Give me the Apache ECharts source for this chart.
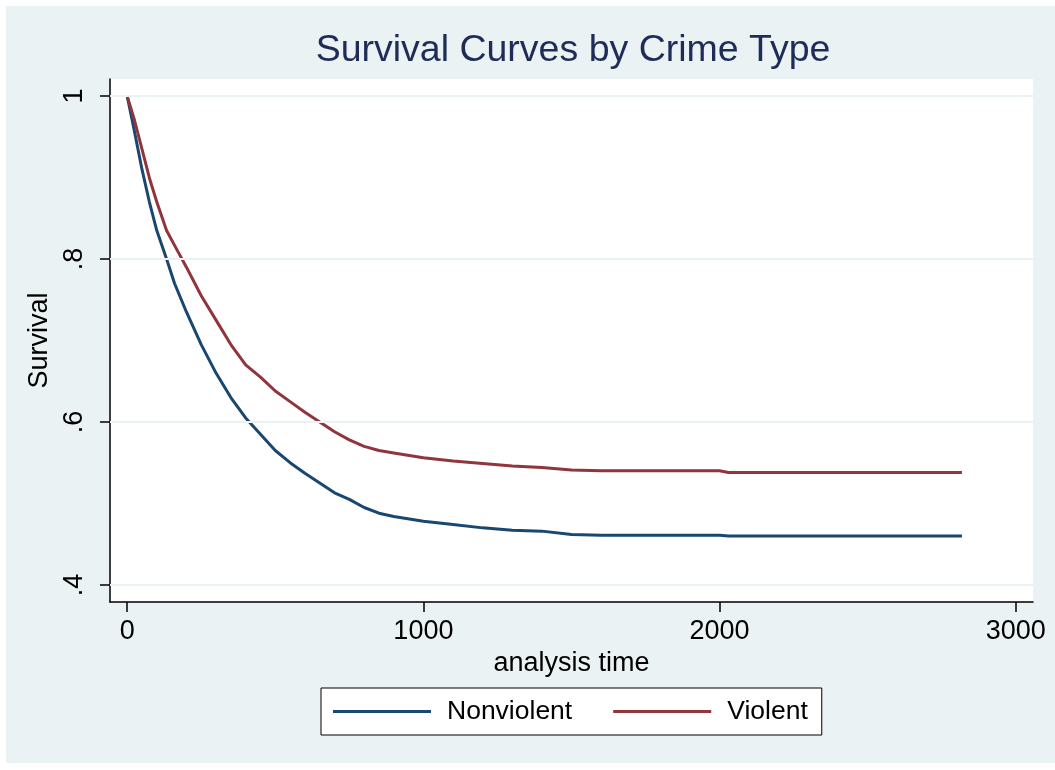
<!DOCTYPE html>
<html>
<head>
<meta charset="utf-8">
<script src="https://cdn.jsdelivr.net/npm/echarts@6/dist/echarts.min.js"></script>
<style>
  html, body { margin: 0; padding: 0; background: #ffffff; }
  #chart { width: 1055px; height: 770px; }
</style>
</head>
<body>
<div id="chart"></div>
<script>
// Kaplan-Meier survival estimates by crime type (analysis time in days)
const timeNonviolent = [0, 20, 50, 75, 100, 133, 160, 200, 250, 300, 350, 400, 450, 500, 550, 600, 650, 700, 750, 800, 850, 900, 1000, 1100, 1200, 1300, 1400, 1500, 1600, 1800, 2000, 2030, 2400, 2818];
const survNonviolent = [1.0, 0.965, 0.91, 0.87, 0.835, 0.80, 0.77, 0.735, 0.695, 0.66, 0.63, 0.605, 0.585, 0.565, 0.55, 0.537, 0.525, 0.513, 0.505, 0.495, 0.488, 0.484, 0.478, 0.474, 0.47, 0.467, 0.466, 0.462, 0.461, 0.461, 0.461, 0.460, 0.460, 0.460];

const timeViolent = [0, 25, 50, 77, 100, 133, 170, 200, 250, 300, 350, 400, 450, 500, 550, 600, 650, 700, 750, 800, 850, 900, 1000, 1100, 1200, 1300, 1400, 1500, 1600, 2000, 2030, 2400, 2818];
const survViolent = [1.0, 0.97, 0.935, 0.897, 0.87, 0.835, 0.81, 0.79, 0.755, 0.725, 0.695, 0.67, 0.655, 0.638, 0.625, 0.612, 0.60, 0.588, 0.578, 0.57, 0.565, 0.562, 0.556, 0.552, 0.549, 0.546, 0.544, 0.541, 0.540, 0.540, 0.538, 0.538, 0.538];

const seriesNames = ['Nonviolent', 'Violent'];
const xTicks = [0, 1000, 2000, 3000];
const yTicks = [0.4, 0.6, 0.8, 1];

const FONT = 'Arial, "Liberation Sans", Helvetica, sans-serif';
const BG = '#eaf2f3';

function pairs(ts, vs) { return ts.map((t, i) => [t, vs[i]]); }

const chart = echarts.init(document.getElementById('chart'), null, { renderer: 'canvas' });

chart.setOption({
  backgroundColor: '#ffffff',
  animation: false,
  textStyle: { fontFamily: FONT },
  graphic: [
    { type: 'rect', z: -10, silent: true,
      shape: { x: 6, y: 6, width: 1049, height: 757 },
      style: { fill: BG } }
  ],
  title: {
    text: 'Survival Curves by Crime Type',
    left: 568, top: 27, textAlign: 'center',
    textStyle: { fontFamily: FONT, fontSize: 37.5, fontWeight: 'normal', color: '#1e2c57' }
  },
  grid: {
    left: 110, top: 79, right: 22, bottom: 168,
    show: true, backgroundColor: '#ffffff', borderWidth: 0
  },
  legend: {
    data: seriesNames,
    left: 321, top: 688,
    orient: 'horizontal',
    padding: [10, 14, 10, 12],
    itemGap: 41,
    itemWidth: 98, itemHeight: 3,
    icon: 'rect',
    backgroundColor: '#ffffff',
    borderColor: '#000000', borderWidth: 1, borderRadius: 0,
    textStyle: { fontFamily: FONT, fontSize: 26.5, color: '#000000', padding: [0, 0, 0, 11] }
  },
  xAxis: {
    type: 'value',
    min: -58, max: 3058,
    name: 'analysis time',
    nameLocation: 'middle', nameGap: 46,
    nameTextStyle: { fontFamily: FONT, fontSize: 27, color: '#000000' },
    axisLine: { show: true, onZero: false, lineStyle: { color: '#000000', width: 1.5 } },
    axisTick: { show: true, length: 10, customValues: xTicks, lineStyle: { color: '#000000', width: 1.5 } },
    axisLabel: {
      customValues: xTicks, margin: 16, fontFamily: FONT, fontSize: 27, color: '#000000',
      formatter: v => String(v)
    },
    splitLine: { show: false }
  },
  yAxis: {
    type: 'value',
    min: 0.379, max: 1.021,
    name: 'Survival',
    nameLocation: 'middle', nameGap: 55, nameRotate: 90,
    nameTextStyle: { fontFamily: FONT, fontSize: 27, color: '#000000' },
    axisLine: { show: true, onZero: false, lineStyle: { color: '#000000', width: 1.5 } },
    axisTick: { show: true, length: 10, customValues: yTicks, lineStyle: { color: '#000000', width: 1.5 } },
    axisLabel: {
      customValues: yTicks, rotate: 90, margin: 22,
      fontFamily: FONT, fontSize: 27, color: '#000000',
      formatter: v => String(Math.round(v * 10) / 10).replace(/^0(?=\.)/, '')
    },
    splitLine: { show: false }
  },
  series: [
    {
      // horizontal reference lines at the labelled survival levels
      type: 'line', data: [], z: 1, silent: true,
      markLine: {
        silent: true, symbol: 'none', label: { show: false },
        lineStyle: { color: BG, width: 2, type: 'solid' },
        data: yTicks.map(v => ({ yAxis: v }))
      }
    },
    {
      name: seriesNames[0], type: 'line', z: 3,
      data: pairs(timeNonviolent, survNonviolent),
      showSymbol: false, symbol: 'none',
      color: '#1a476f',
      lineStyle: { color: '#1a476f', width: 3 }
    },
    {
      name: seriesNames[1], type: 'line', z: 3,
      data: pairs(timeViolent, survViolent),
      showSymbol: false, symbol: 'none',
      color: '#90353b',
      lineStyle: { color: '#90353b', width: 3 }
    }
  ]
});
</script>
</body>
</html>
